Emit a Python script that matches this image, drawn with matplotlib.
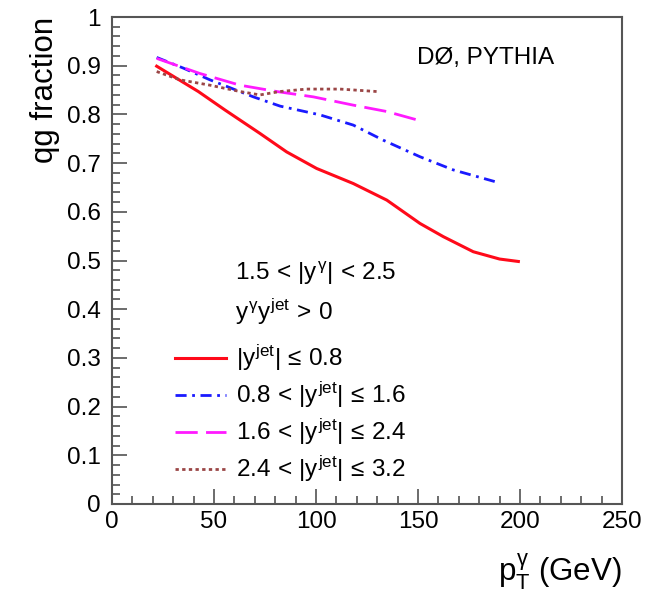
import matplotlib
matplotlib.use("Agg")
import matplotlib.pyplot as plt
from matplotlib.ticker import MultipleLocator

plt.rcParams["font.family"] = ["Liberation Sans", "DejaVu Sans"]
plt.rcParams["mathtext.fontset"] = "custom"
plt.rcParams["mathtext.rm"] = "Liberation Sans"
plt.rcParams["mathtext.it"] = "Liberation Sans"
plt.rcParams["mathtext.bf"] = "Liberation Sans:bold"

# curves (pT in GeV, qg fraction)
pt_red = [21.9, 42.3, 55.4, 72.5, 85.6, 100.3, 118.3, 134.7, 151.0, 162.4, 177.1, 190.0, 199.2]
frac_red = [0.899, 0.847, 0.809, 0.761, 0.723, 0.689, 0.658, 0.624, 0.576, 0.549, 0.518, 0.503, 0.498]

pt_blue = [21.9, 35.0, 48.0, 69.3, 82.4, 102.0, 118.3, 133.0, 151.0, 167.3, 189.4]
frac_blue = [0.917, 0.895, 0.871, 0.836, 0.817, 0.799, 0.778, 0.747, 0.713, 0.686, 0.660]

pt_mag = [21.9, 43.1, 62.7, 80.7, 98.7, 118.3, 134.6, 149.3]
frac_mag = [0.915, 0.884, 0.860, 0.847, 0.836, 0.819, 0.806, 0.789]

pt_brown = [21.9, 33.3, 48.0, 62.7, 72.5, 82.4, 95.4, 111.8, 129.7]
frac_brown = [0.888, 0.871, 0.860, 0.847, 0.840, 0.847, 0.852, 0.852, 0.847]

labels = [
    r"$|y^{jet}|\,\leq\,0.8$",
    r"$0.8\,<\,|y^{jet}|\,\leq\,1.6$",
    r"$1.6\,<\,|y^{jet}|\,\leq\,2.4$",
    r"$2.4\,<\,|y^{jet}|\,\leq\,3.2$",
]

W, H = 660, 593
fig = plt.figure(figsize=(W / 100, H / 100), dpi=100)
ax = fig.add_axes([112 / W, (H - 504) / H, 510 / W, 487 / H])

ax.plot(pt_red, frac_red, color="#ff0a1a", lw=2.2, ls="-", label=labels[0])
ax.plot(pt_blue, frac_blue, color="#1a1aff", lw=2.0, ls=(0, (4, 2, 1, 2)), label=labels[1])
ax.plot(pt_mag, frac_mag, color="#ff1aff", lw=2.0, ls=(0, (8, 3)), label=labels[2])
ax.plot(pt_brown, frac_brown, color="#9b4646", lw=2.0, ls=(0, (1.2, 1.2)), label=labels[3])

ax.set_xlim(0, 250)
ax.set_ylim(0, 1)
ax.xaxis.set_major_locator(MultipleLocator(50))
ax.xaxis.set_minor_locator(MultipleLocator(10))
ax.yaxis.set_minor_locator(MultipleLocator(0.02))
ax.set_yticks([0, 0.1, 0.2, 0.3, 0.4, 0.5, 0.6, 0.7, 0.8, 0.9, 1.0])
ax.set_yticklabels(["0", "0.1", "0.2", "0.3", "0.4", "0.5", "0.6", "0.7", "0.8", "0.9", "1"])
ax.tick_params(which="both", direction="in", top=False, right=False, labelsize=17.5, color="#444444")
ax.tick_params(which="major", length=11, width=1.1)
ax.tick_params(which="minor", length=5.5, width=1.1)
ax.tick_params(axis="y", pad=8)
ax.tick_params(axis="x", pad=5)
for s in ax.spines.values():
    s.set_color("#555555")
    s.set_linewidth(1.5)

fig.text(45 / W, 1 - 17 / H, "qg fraction", rotation=90, ha="center", va="top", fontsize=22.5)
fig.text(622 / W, 1 - 572 / H, r"$p_T^{\gamma}$ (GeV)", ha="right", va="center", fontsize=22.5)

fig.text(417 / W, 1 - 58 / H, "DØ, PYTHIA", ha="left", va="center", fontsize=17.5)
fig.text(235 / W, 1 - 273 / H, r"$1.5\,<\,|y^{\gamma}|\,<\,2.5$", ha="left", va="center", fontsize=17.5)
fig.text(235 / W, 1 - 312 / H, r"$y^{\gamma}y^{jet}\,>\,0$", ha="left", va="center", fontsize=17.5)

ax.legend(
    loc="upper left",
    bbox_to_anchor=(175 / W, 1 - 343 / H),
    bbox_transform=fig.transFigure,
    frameon=False,
    fontsize=17.5,
    handlelength=2.1,
    handletextpad=0.42,
    labelspacing=0.28,
    borderpad=0,
    borderaxespad=0,
)

fig.savefig("out.png", dpi=100)
